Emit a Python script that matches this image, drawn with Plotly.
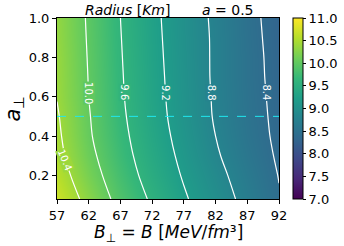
import plotly.graph_objects as go
from plotly.colors import sample_colorscale

B_vals = [57, 62, 67, 72, 77, 82, 87, 92]
a_vals = [0.08, 0.2, 0.3, 0.4, 0.5, 0.6, 0.7, 0.8, 0.9, 1.0]
radius = [
    [10.70, 10.28, 9.88, 9.55, 9.24, 8.97, 8.70, 8.42],  # a=0.08
    [10.58, 10.16, 9.79, 9.46, 9.17, 8.90, 8.64, 8.39],  # a=0.2
    [10.50, 10.09, 9.73, 9.41, 9.12, 8.84, 8.59, 8.36],  # a=0.3
    [10.46, 10.04, 9.69, 9.37, 9.08, 8.80, 8.55, 8.34],  # a=0.4
    [10.43, 10.02, 9.66, 9.34, 9.05, 8.77, 8.53, 8.33],  # a=0.5
    [10.39, 10.00, 9.64, 9.32, 9.04, 8.76, 8.52, 8.32],  # a=0.6
    [10.38, 9.99, 9.63, 9.31, 9.03, 8.75, 8.51, 8.31],   # a=0.7
    [10.37, 9.98, 9.62, 9.30, 9.02, 8.75, 8.51, 8.30],   # a=0.8
    [10.35, 9.97, 9.61, 9.29, 9.01, 8.75, 8.50, 8.29],   # a=0.9
    [10.34, 9.96, 9.60, 9.28, 9.00, 8.74, 8.49, 8.28],   # a=1.0
]
x_ticks = [57, 62, 67, 72, 77, 82, 87, 92]
y_ticks = [0.2, 0.4, 0.6, 0.8, 1.0]
cbar_ticks = [7.0, 7.5, 8.0, 8.5, 9.0, 9.5, 10.0, 10.5, 11.0]
contour_levels = [8.4, 8.8, 9.2, 9.6, 10.0, 10.4]
a_fixed = 0.5
ZMIN, ZMAX = 7.0, 11.0

font = "DejaVu Sans"

fig = go.Figure()
fig.add_trace(go.Heatmap(
    x=B_vals, y=a_vals, z=radius, zsmooth="best",
    colorscale="Viridis", zmin=ZMIN, zmax=ZMAX,
    colorbar=dict(
        x=1.063, xanchor="left", xpad=0, ypad=0, y=0.5, yanchor="middle",
        len=1.0, lenmode="fraction", thickness=10,
        outlinewidth=1, outlinecolor="black",
        tickvals=cbar_ticks, ticktext=[f"{v:.1f}" for v in cbar_ticks],
        ticks="outside", ticklen=3, tickcolor="black",
        tickfont=dict(family=font, size=13, color="black"),
    ),
    showscale=True,
))
fig.add_trace(go.Contour(
    x=B_vals, y=a_vals, z=radius,
    contours=dict(start=contour_levels[0], end=contour_levels[-1], size=0.4,
                  coloring="none", showlabels=False),
    line=dict(color="white", width=1.2),
    showscale=False,
))


def level_x(row_a, level):
    row = radius[a_vals.index(row_a)]
    for i in range(len(B_vals) - 1):
        z0, z1 = row[i], row[i + 1]
        if (z0 - level) * (z1 - level) <= 0:
            return B_vals[i] + (B_vals[i + 1] - B_vals[i]) * (z0 - level) / (z0 - z1)
    return None


# contour labels (inline, along the lines)
for lev in contour_levels:
    if lev == 10.4:
        ra, ang, ya = 0.3, 68, 0.28
    else:
        ra, ang, ya = 0.6, 90, 0.62
    xl = level_x(ra, lev)
    if xl is None:
        continue
    bg = sample_colorscale("Viridis", [(lev - ZMIN) / (ZMAX - ZMIN)])[0]
    fig.add_annotation(x=xl, y=ya, xref="x", yref="y",
                       text=f"{lev:.1f}", textangle=ang, showarrow=False,
                       bgcolor=bg, borderpad=0,
                       font=dict(family=font, size=10, color="white"))

fig.add_shape(type="line", x0=B_vals[0], x1=B_vals[-1], y0=a_fixed, y1=a_fixed,
              xref="x", yref="y", line=dict(color="#20e8f0", width=1, dash="dash"))

fig.add_annotation(
    text="<i>Radius</i> [<i>Km</i>]",
    x=0.3176, y=1.0, xref="paper", yref="paper", xanchor="center", yanchor="bottom",
    yshift=-2, showarrow=False, font=dict(family=font, size=14, color="black"))
fig.add_annotation(
    text="<i>a</i> = 0.5",
    x=0.770, y=1.0, xref="paper", yref="paper", xanchor="center", yanchor="bottom",
    yshift=-2, showarrow=False, font=dict(family=font, size=14, color="black"))

fig.add_annotation(
    text="<i>B</i><sub>⊥</sub> = <i>B</i> [<i>MeV</i>/<i>fm</i>³]",
    x=0.5, y=0, xref="paper", yref="paper", xanchor="center", yanchor="middle",
    yshift=-34, showarrow=False, font=dict(family=font, size=17, color="black"))

fig.add_annotation(
    text="<i>a</i><sub>⊥</sub>",
    x=0, y=0.5, xref="paper", yref="paper", xanchor="right", yanchor="middle",
    xshift=-29, textangle=-90, showarrow=False,
    font=dict(family=font, size=21, color="black"))

fig.update_xaxes(
    range=[57, 92], tickvals=x_ticks, ticktext=[str(v) for v in x_ticks],
    showline=True, linecolor="black", linewidth=1, mirror=True,
    ticks="outside", ticklen=4, tickcolor="black", showgrid=False, zeroline=False,
    tickfont=dict(family=font, size=13, color="black"),
)
fig.update_yaxes(
    range=[0.08, 1.0], tickvals=y_ticks, ticktext=[f"{v:.1f}" for v in y_ticks],
    showline=True, linecolor="black", linewidth=1, mirror=True,
    ticks="outside", ticklen=4, tickcolor="black", showgrid=False, zeroline=False,
    tickfont=dict(family=font, size=13, color="black"),
)
fig.update_layout(
    width=344, height=246,
    margin=dict(l=57, r=65, t=18, b=47, autoexpand=False),
    paper_bgcolor="white", plot_bgcolor="white",
    showlegend=False,
)
fig.write_html("out.html", config={"displayModeBar": False},
               post_script="document.body.style.margin='0px';")
